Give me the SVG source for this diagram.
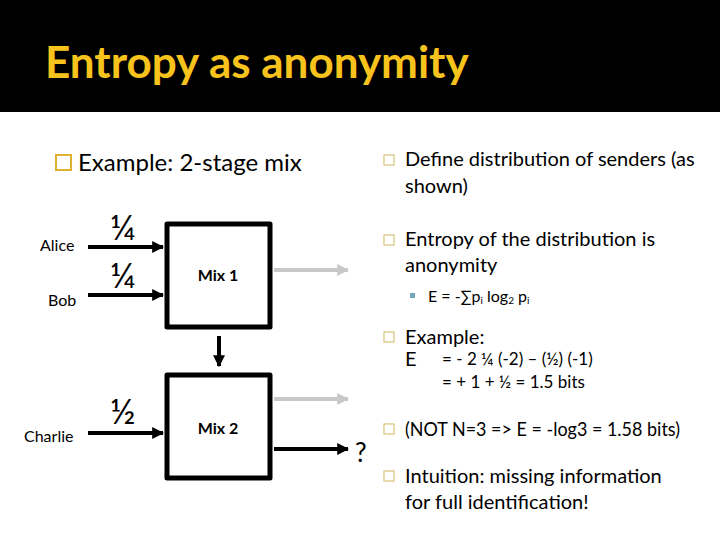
<svg xmlns="http://www.w3.org/2000/svg" width="720" height="540" viewBox="0 0 720 540">
<defs>
<style>
text{font-family:Lato,"Open Sans","DejaVu Sans",sans-serif;fill:#000}
.title{font-size:44px;font-weight:bold;fill:#F7C31C}
.lbl{font-size:16px}
.frac{font-size:35px}
.mix{font-size:16px;font-weight:bold}
.big{font-size:24px}
.body{font-size:20px}
.small{font-size:17px}
.box{fill:#fff;stroke:#000;stroke-width:5;stroke-linejoin:round}
.blk{stroke:#000;stroke-width:4;fill:none}
.gry{stroke:#c8c8c8;stroke-width:4;fill:none}
.bul{fill:none;stroke:#D8C37A;stroke-width:1.2}
</style>
<marker id="ah" viewBox="0 0 10 10" refX="9" refY="5" markerWidth="3" markerHeight="3" orient="auto"><path d="M0,0 L10,5 L0,10 Z" fill="#000"/></marker>
<marker id="ag" viewBox="0 0 10 10" refX="9" refY="5" markerWidth="3" markerHeight="3" orient="auto"><path d="M0,0 L10,5 L0,10 Z" fill="#c8c8c8"/></marker>
</defs>
<rect x="0" y="0" width="720" height="540" fill="#fff"/>
<rect x="0" y="0" width="720" height="112" fill="#000"/>
<text class="title" x="45" y="78">Entropy as anonymity</text>

<rect x="56" y="155" width="15" height="15" fill="none" stroke="#E0B030" stroke-width="2"/>
<text class="big" x="78" y="171">Example: 2-stage mix</text>

<g id="alice"><text class="lbl" x="40" y="251">Alice</text></g>
<g id="bob"><text class="lbl" x="48" y="306">Bob</text></g>
<g id="charlie"><text class="lbl" x="24" y="442">Charlie</text></g>
<g id="mix1"><rect class="box" x="167" y="224" width="103" height="103"/><text class="mix" x="218" y="281" text-anchor="middle">Mix 1</text></g>
<g id="mix2"><rect class="box" x="167" y="375" width="103" height="103"/><text class="mix" x="218" y="434" text-anchor="middle">Mix 2</text></g>
<g id="q"><text x="355" y="462" style="font-size:26px">?</text></g>

<g id="connectors">
<line class="blk" x1="88" y1="247" x2="163" y2="247" marker-end="url(#ah)"/>
<line class="blk" x1="88" y1="295" x2="163" y2="295" marker-end="url(#ah)"/>
<line class="blk" x1="88" y1="433" x2="163" y2="433" marker-end="url(#ah)"/>
<line class="gry" x1="274" y1="270" x2="348" y2="270" marker-end="url(#ag)"/>
<line class="gry" x1="274" y1="399" x2="348" y2="399" marker-end="url(#ag)"/>
<line class="blk" x1="274" y1="449" x2="348" y2="449" marker-end="url(#ah)"/>
<line class="blk" x1="219" y1="336" x2="219" y2="366" marker-end="url(#ah)"/>
<text class="frac" x="110" y="240">¼</text>
<text class="frac" x="110" y="288">¼</text>
<text class="frac" x="110" y="424">½</text>
</g>

<rect class="bul" x="384" y="155" width="10" height="10"/>
<text class="body" x="405" y="166">Define distribution of senders (as</text>
<text class="body" x="405" y="193">shown)</text>
<rect class="bul" x="384" y="235" width="10" height="10"/>
<text class="body" x="405" y="246">Entropy of the distribution is</text>
<text class="body" x="405" y="272">anonymity</text>
<rect x="410" y="293" width="5" height="5" fill="#6FA8B8"/>
<text style="font-size:16px" x="428" y="302">E = -∑p<tspan font-size="10" dy="2">i</tspan><tspan dy="-2"> log</tspan><tspan font-size="10" dy="2">2</tspan><tspan dy="-2"> p</tspan><tspan font-size="10" dy="2">i</tspan></text>
<rect class="bul" x="384" y="332" width="10" height="10"/>
<text class="body" x="405" y="344">Example:</text>
<text class="body" x="405" y="366">E</text>
<text class="small" x="442" y="365">=  - 2 ¼ (-2) – (½) (-1)</text>
<text class="small" x="442" y="388">= + 1 + ½ = 1.5 bits</text>
<rect class="bul" x="384" y="424" width="10" height="10"/>
<text class="body" x="405" y="436" textLength="275" lengthAdjust="spacingAndGlyphs">(NOT N=3 =&gt; E = -log3 = 1.58 bits)</text>
<rect class="bul" x="384" y="471" width="10" height="10"/>
<text class="body" x="405" y="483">Intuition: missing information</text>
<text class="body" x="405" y="509">for full identification!</text>
</svg>
